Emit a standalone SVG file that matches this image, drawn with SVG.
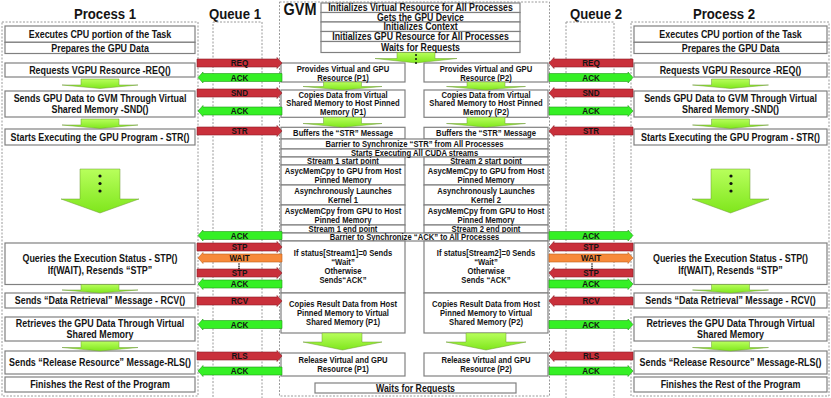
<svg xmlns="http://www.w3.org/2000/svg" width="831" height="398" viewBox="0 0 831 398">
<defs>
<linearGradient id="gg" x1="0" y1="0" x2="0" y2="1"><stop offset="0" stop-color="#b8ff5c"/><stop offset="1" stop-color="#7fe61c"/></linearGradient>
</defs>
<style>
.bx{fill:#fff;stroke:#808080;stroke-width:1.2}
.dash{fill:none;stroke:#9a9a9a;stroke-width:1;stroke-dasharray:2 1.5}
.t{font-family:"Liberation Sans",Arial,sans-serif;font-weight:bold;text-anchor:middle;fill:#141414;transform-box:fill-box;transform-origin:center;transform:scaleX(0.85)}
.tp{font-size:10.5px}
.tg{font-size:9px}
.tt{font-size:10.3px}
.tq{font-size:9.5px}
.ti{font-size:15.5px}
.ga{fill:url(#gg);stroke:#6f9a36;stroke-width:0.5}
.red{fill:#c9303b;stroke:#8e1c25;stroke-width:0.6}
.grn{fill:#35f025;stroke:#1e9a14;stroke-width:0.6}
.org{fill:#f78a3a;stroke:#c0601c;stroke-width:0.6}
.dot{fill:#111}
</style>

<g id="titles">
<text class="t ti" x="105" y="19.5">Process 1</text>
<text class="t ti" x="235" y="19.5">Queue 1</text>
<text class="t ti" x="300" y="15.5" style="font-size:17px">GVM</text>
<text class="t ti" x="596" y="19.5">Queue 2</text>
<text class="t ti" x="724" y="19.5">Process 2</text>
</g>

<g id="process1">
<rect class="dash" x="2" y="22" width="196" height="374"/>
<rect class="bx" x="5" y="26" width="190" height="16.3"/>
<text class="t tp" x="100" y="38">Executes CPU portion of the Task</text>
<rect class="bx" x="5" y="42.3" width="190" height="11.2"/>
<text class="t tp" x="100" y="51.8">Prepares the GPU Data</text>
<rect class="bx" x="5" y="63" width="190" height="14"/>
<text class="t tp" x="100" y="73.8">Requests VGPU Resource -REQ()</text>
<rect class="bx" x="5" y="91" width="190" height="26"/>
<text class="t tp" x="100" y="102.2">Sends GPU Data to GVM Through Virtual</text>
<text class="t tp" x="100" y="113">Shared Memory -SND()</text>
<rect class="bx" x="5" y="129" width="190" height="16"/>
<text class="t tp" x="100" y="140.8">Starts Executing the GPU Program - STR()</text>
<rect class="bx" x="5" y="243" width="190" height="41.5"/>
<text class="t tp" x="100" y="262">Queries the Execution Status - STP()</text>
<text class="t tp" x="100" y="274">If(WAIT), Resends “STP”</text>
<rect class="bx" x="5" y="293" width="190" height="15"/>
<text class="t tp" x="100" y="304.5">Sends “Data Retrieval” Message - RCV()</text>
<rect class="bx" x="5" y="317" width="190" height="24"/>
<text class="t tp" x="100" y="327.3">Retrieves the GPU Data  Through Virtual</text>
<text class="t tp" x="100" y="338">Shared Memory</text>
<rect class="bx" x="5" y="351" width="190" height="23"/>
<text class="t tp" x="100" y="366.3">Sends “Release Resource” Message-RLS()</text>
<rect class="bx" x="5" y="377" width="190" height="15"/>
<text class="t tp" x="100" y="388.3">Finishes the Rest of the Program</text>
<polygon class="ga" points="81,79 119,79 119,85 138,85 100,88.5 62,85 81,85"/>
<polygon class="ga" points="81,119 119,119 119,125 138,125 100,128.5 62,125 81,125"/>
<polygon class="ga" points="81,284.5 119,284.5 119,290 138,290 100,293 62,290 81,290"/>
<polygon class="ga" points="81,341.5 119,341.5 119,347.5 138,347.5 100,351 62,347.5 81,347.5"/>
<polygon class="ga" points="80,169 120,169 120,199 139,199 100,213 61,199 80,199"/>
<circle class="dot" cx="100" cy="176" r="1.6"/>
<circle class="dot" cx="100" cy="183.5" r="1.6"/>
<circle class="dot" cx="100" cy="191" r="1.6"/>
</g>

<g id="queue1">
<rect class="dash" x="213" y="22" width="49" height="380"/>
</g>

<g id="queue2">
<rect class="dash" x="566" y="22" width="48" height="380"/>
</g>

<g id="gvm">
<rect class="dash" x="279.5" y="2" width="270" height="394"/>
<rect class="bx" x="321" y="3" width="199" height="9.5"/>
<text class="t tt" x="420.5" y="11.4">Initializes Virtual Resource for All Processes</text>
<rect class="bx" x="321" y="12.5" width="199" height="9.5"/>
<text class="t tt" x="420.5" y="20.9">Gets the GPU Device</text>
<rect class="bx" x="321" y="22" width="199" height="9.5"/>
<text class="t tt" x="420.5" y="30.4">Initializes Context</text>
<rect class="bx" x="321" y="31.5" width="199" height="10"/>
<text class="t tt" x="420.5" y="40.2">Initializes GPU Resource for All Processes</text>
<rect class="bx" x="321" y="41.5" width="199" height="11"/>
<text class="t tt" x="420.5" y="50.7">Waits for Requests</text>
<polygon class="ga" points="397,52.5 435,52.5 435,58.5 457,58.5 416,63 375,58.5 397,58.5"/>
<circle class="dot" cx="416" cy="55" r="1"/>
<circle class="dot" cx="416" cy="59" r="1"/>
<circle class="dot" cx="416" cy="63" r="1"/>

<rect class="bx" x="281" y="63" width="124" height="19"/>
<text class="t tg" x="343" y="71.7">Provides Virtual and GPU</text>
<text class="t tg" x="343" y="80.7">Resource (P1)</text>
<rect class="bx" x="424" y="63" width="124" height="19"/>
<text class="t tg" x="486" y="71.7">Provides Virtual and GPU</text>
<text class="t tg" x="486" y="80.7">Resource (P2)</text>

<rect class="bx" x="281" y="90" width="124" height="27.3"/>
<text class="t tg" x="343" y="97.7">Copies Data from Virtual</text>
<text class="t tg" x="343" y="106.4">Shared Memory to Host Pinned</text>
<text class="t tg" x="343" y="115.1">Memory (P1)</text>
<rect class="bx" x="424" y="90" width="124" height="27.3"/>
<text class="t tg" x="486" y="97.7">Copies Data from Virtual</text>
<text class="t tg" x="486" y="106.4">Shared Memory to Host Pinned</text>
<text class="t tg" x="486" y="115.1">Memory (P2)</text>

<rect class="bx" x="281" y="127.3" width="124" height="11.7"/>
<text class="t tg" x="343" y="136.4">Buffers the “STR” Message</text>
<rect class="bx" x="424" y="127.3" width="124" height="11.7"/>
<text class="t tg" x="486" y="136.4">Buffers the “STR” Message</text>

<rect class="bx" x="281" y="139" width="267" height="10"/>
<text class="t tg" x="414.5" y="147.2">Barrier to Synchronize “STR” from All Processes</text>
<rect class="bx" x="281" y="149" width="267" height="8"/>
<text class="t tg" x="414.5" y="156.2">Starts Executing All CUDA streams</text>

<rect class="bx" x="281" y="157" width="124" height="8"/>
<text class="t tg" x="343" y="164.2">Stream 1 start point</text>
<rect class="bx" x="424" y="157" width="124" height="8"/>
<text class="t tg" x="486" y="164.2">Stream 2 start point</text>

<rect class="bx" x="281" y="165" width="124" height="20"/>
<text class="t tg" x="343" y="174">AsycMemCpy to GPU from Host</text>
<text class="t tg" x="343" y="182.6">Pinned Memory</text>
<rect class="bx" x="424" y="165" width="124" height="20"/>
<text class="t tg" x="486" y="174">AsycMemCpy to GPU from Host</text>
<text class="t tg" x="486" y="182.6">Pinned Memory</text>

<rect class="bx" x="281" y="185" width="124" height="20"/>
<text class="t tg" x="343" y="194.2">Asynchronously Launches</text>
<text class="t tg" x="343" y="202.6">Kernel 1</text>
<rect class="bx" x="424" y="185" width="124" height="20"/>
<text class="t tg" x="486" y="194.2">Asynchronously Launches</text>
<text class="t tg" x="486" y="202.6">Kernel 2</text>

<rect class="bx" x="281" y="205" width="124" height="20"/>
<text class="t tg" x="343" y="214">AsycMemCpy from GPU to Host</text>
<text class="t tg" x="343" y="222.6">Pinned Memory</text>
<rect class="bx" x="424" y="205" width="124" height="20"/>
<text class="t tg" x="486" y="214">AsycMemCpy from GPU to Host</text>
<text class="t tg" x="486" y="222.6">Pinned Memory</text>

<rect class="bx" x="281" y="225" width="124" height="8"/>
<text class="t tg" x="343" y="232.2">Stream 1 end point</text>
<rect class="bx" x="424" y="225" width="124" height="8"/>
<text class="t tg" x="486" y="232.2">Stream 2 end point</text>

<rect class="bx" x="281" y="233" width="267" height="8"/>
<text class="t tg" x="414.5" y="240.2">Barrier to Synchronize “ACK” to All Processes</text>

<rect class="bx" x="281" y="241" width="124" height="52"/>
<text class="t tg" x="343" y="256.4">If status[Stream1]=0 Sends</text>
<text class="t tg" x="343" y="265.4">“Wait”</text>
<text class="t tg" x="343" y="274.4">Otherwise</text>
<text class="t tg" x="343" y="283.4">Sends“ACK”</text>
<rect class="bx" x="424" y="241" width="124" height="52"/>
<text class="t tg" x="486" y="256.4">If status[Stream2]=0 Sends</text>
<text class="t tg" x="486" y="265.4">“Wait”</text>
<text class="t tg" x="486" y="274.4">Otherwise</text>
<text class="t tg" x="486" y="283.4">Sends “ACK”</text>

<rect class="bx" x="281" y="293" width="124" height="40"/>
<text class="t tg" x="343" y="306.7">Copies Result Data from Host</text>
<text class="t tg" x="343" y="316">Pinned Memory to Virtual</text>
<text class="t tg" x="343" y="325">Shared Memory (P1)</text>
<rect class="bx" x="424" y="293" width="124" height="40"/>
<text class="t tg" x="486" y="306.7">Copies Result Data from Host</text>
<text class="t tg" x="486" y="316">Pinned Memory to Virtual</text>
<text class="t tg" x="486" y="325">Shared Memory (P2)</text>

<rect class="bx" x="281" y="353" width="124" height="23"/>
<text class="t tg" x="343" y="362.7">Release Virtual and GPU</text>
<text class="t tg" x="343" y="371.7">Resource (P1)</text>
<rect class="bx" x="424" y="353" width="124" height="23"/>
<text class="t tg" x="486" y="362.7">Release Virtual and GPU</text>
<text class="t tg" x="486" y="371.7">Resource (P2)</text>

<rect class="bx" x="315" y="383" width="201" height="10"/>
<text class="t tt" x="415.5" y="391.7">Waits for Requests</text>

<polygon class="ga" points="323.5,82 361.5,82 361.5,86.5 382,86.5 342.5,90 303,86.5 323.5,86.5"/>
<polygon class="ga" points="467,82 505,82 505,86.5 525.5,86.5 486,90 446.5,86.5 467,86.5"/>
<polygon class="ga" points="323.5,117.3 361.5,117.3 361.5,123.5 382,123.5 342.5,127.3 303,123.5 323.5,123.5"/>
<polygon class="ga" points="467,117.3 505,117.3 505,123.5 525.5,123.5 486,127.3 446.5,123.5 467,123.5"/>
<polygon class="ga" points="322,333 362,333 362,342 382,342 342.5,350 303,342 322,342"/>
<polygon class="ga" points="466,333 506,333 506,342 526,342 486,350 446,342 466,342"/>
</g>

<g id="process2">
<rect class="dash" x="631" y="22" width="198" height="374"/>
<rect class="bx" x="634" y="26" width="193" height="16.3"/>
<text class="t tp" x="730.5" y="38">Executes CPU portion of the Task</text>
<rect class="bx" x="634" y="42.3" width="193" height="11.2"/>
<text class="t tp" x="730.5" y="51.8">Prepares the GPU Data</text>
<rect class="bx" x="634" y="63" width="193" height="14"/>
<text class="t tp" x="730.5" y="73.8">Requests VGPU Resource -REQ()</text>
<rect class="bx" x="634" y="91" width="193" height="26"/>
<text class="t tp" x="730.5" y="102.2">Sends GPU Data to GVM Through Virtual</text>
<text class="t tp" x="730.5" y="113">Shared Memory -SND()</text>
<rect class="bx" x="634" y="129" width="193" height="16"/>
<text class="t tp" x="730.5" y="140.8">Starts Executing the GPU Program - STR()</text>
<rect class="bx" x="634" y="243" width="193" height="41.5"/>
<text class="t tp" x="730.5" y="262">Queries the Execution Status - STP()</text>
<text class="t tp" x="730.5" y="274">If(WAIT), Resends “STP”</text>
<rect class="bx" x="634" y="293" width="193" height="15"/>
<text class="t tp" x="730.5" y="304.5">Sends “Data Retrieval” Message - RCV()</text>
<rect class="bx" x="634" y="317" width="193" height="24"/>
<text class="t tp" x="730.5" y="327.3">Retrieves the GPU Data  Through Virtual</text>
<text class="t tp" x="730.5" y="338">Shared Memory</text>
<rect class="bx" x="634" y="351" width="193" height="23"/>
<text class="t tp" x="730.5" y="366.3">Sends “Release Resource” Message-RLS()</text>
<rect class="bx" x="634" y="377" width="193" height="15"/>
<text class="t tp" x="730.5" y="388.3">Finishes the Rest of the Program</text>
<polygon class="ga" points="711.5,79 749.5,79 749.5,85 768.5,85 730.5,88.5 692.5,85 711.5,85"/>
<polygon class="ga" points="711.5,119 749.5,119 749.5,125 768.5,125 730.5,128.5 692.5,125 711.5,125"/>
<polygon class="ga" points="711.5,284.5 749.5,284.5 749.5,290 768.5,290 730.5,293 692.5,290 711.5,290"/>
<polygon class="ga" points="711.5,341.5 749.5,341.5 749.5,347.5 768.5,347.5 730.5,351 692.5,347.5 711.5,347.5"/>
<polygon class="ga" points="711,169 750,169 750,199 769,199 730.5,213 692,199 711,199"/>
<circle class="dot" cx="731" cy="176" r="1.6"/>
<circle class="dot" cx="731" cy="183.5" r="1.6"/>
<circle class="dot" cx="731" cy="191" r="1.6"/>
</g>

<g id="connectors">
<path class="red" d="M197 59H277V57.5L282 63L277 68.5V67H197Z"/>
<path class="grn" d="M282 73.5H203V72L198 77.5L203 83V81.5H282Z"/>
<path class="red" d="M197 89H277V87.5L282 93L277 98.5V97H197Z"/>
<path class="grn" d="M282 107H203V105.5L198 111L203 116.5V115H282Z"/>
<path class="red" d="M197 127H277V125.5L282 131L277 136.5V135H197Z"/>
<path class="grn" d="M282 231.5H203V230L198 235.5L203 241V239.5H282Z"/>
<path class="red" d="M197 243H277V241.5L282 247L277 252.5V251H197Z"/>
<path class="org" d="M282 254H203V252.5L198 258L203 263.5V262H282Z"/>
<path class="red" d="M197 269H277V267.5L282 273L277 278.5V277H197Z"/>
<path class="grn" d="M282 280H203V278.5L198 284L203 289.5V288H282Z"/>
<path class="red" d="M197 297H277V295.5L282 301L277 306.5V305H197Z"/>
<path class="grn" d="M282 320.5H203V319L198 324.5L203 330V328.5H282Z"/>
<path class="red" d="M197 352H277V350.5L282 356L277 361.5V360H197Z"/>
<path class="grn" d="M282 367H203V365.5L198 371L203 376.5V375H282Z"/>
<circle class="dot" cx="239" cy="264" r="0.8"/>
<circle class="dot" cx="239" cy="266.2" r="0.8"/>
<circle class="dot" cx="239" cy="268.4" r="0.8"/>
<text class="t tq" x="239.5" y="66.4">REQ</text>
<text class="t tq" x="239.5" y="80.9">ACK</text>
<text class="t tq" x="239.5" y="96.4">SND</text>
<text class="t tq" x="239.5" y="114.4">ACK</text>
<text class="t tq" x="239.5" y="134.4">STR</text>
<text class="t tq" x="239.5" y="238.9">ACK</text>
<text class="t tq" x="239.5" y="250.4">STP</text>
<text class="t tq" x="239.5" y="261.4">WAIT</text>
<text class="t tq" x="239.5" y="276.4">STP</text>
<text class="t tq" x="239.5" y="287.4">ACK</text>
<text class="t tq" x="239.5" y="304.4">RCV</text>
<text class="t tq" x="239.5" y="327.9">ACK</text>
<text class="t tq" x="239.5" y="359.4">RLS</text>
<text class="t tq" x="239.5" y="374.4">ACK</text>

<path class="red" d="M633 59H554V57.5L549 63L554 68.5V67H633Z"/>
<path class="grn" d="M549 73.5H628V72L633 77.5L628 83V81.5H549Z"/>
<path class="red" d="M633 89H554V87.5L549 93L554 98.5V97H633Z"/>
<path class="grn" d="M549 107H628V105.5L633 111L628 116.5V115H549Z"/>
<path class="red" d="M633 127H554V125.5L549 131L554 136.5V135H633Z"/>
<path class="grn" d="M549 231.5H628V230L633 235.5L628 241V239.5H549Z"/>
<path class="red" d="M633 243H554V241.5L549 247L554 252.5V251H633Z"/>
<path class="org" d="M549 254H628V252.5L633 258L628 263.5V262H549Z"/>
<path class="red" d="M633 269H554V267.5L549 273L554 278.5V277H633Z"/>
<path class="grn" d="M549 280H628V278.5L633 284L628 289.5V288H549Z"/>
<path class="red" d="M633 297H554V295.5L549 301L554 306.5V305H633Z"/>
<path class="grn" d="M549 320.5H628V319L633 324.5L628 330V328.5H549Z"/>
<path class="red" d="M633 352H554V350.5L549 356L554 361.5V360H633Z"/>
<path class="grn" d="M549 367H628V365.5L633 371L628 376.5V375H549Z"/>
<circle class="dot" cx="592" cy="264" r="0.8"/>
<circle class="dot" cx="592" cy="266.2" r="0.8"/>
<circle class="dot" cx="592" cy="268.4" r="0.8"/>
<text class="t tq" x="591" y="66.4">REQ</text>
<text class="t tq" x="591" y="80.9">ACK</text>
<text class="t tq" x="591" y="96.4">SND</text>
<text class="t tq" x="591" y="114.4">ACK</text>
<text class="t tq" x="591" y="134.4">STR</text>
<text class="t tq" x="591" y="238.9">ACK</text>
<text class="t tq" x="591" y="250.4">STP</text>
<text class="t tq" x="591" y="261.4">WAIT</text>
<text class="t tq" x="591" y="276.4">STP</text>
<text class="t tq" x="591" y="287.4">ACK</text>
<text class="t tq" x="591" y="304.4">RCV</text>
<text class="t tq" x="591" y="327.9">ACK</text>
<text class="t tq" x="591" y="359.4">RLS</text>
<text class="t tq" x="591" y="374.4">ACK</text>
</g>
</svg>
